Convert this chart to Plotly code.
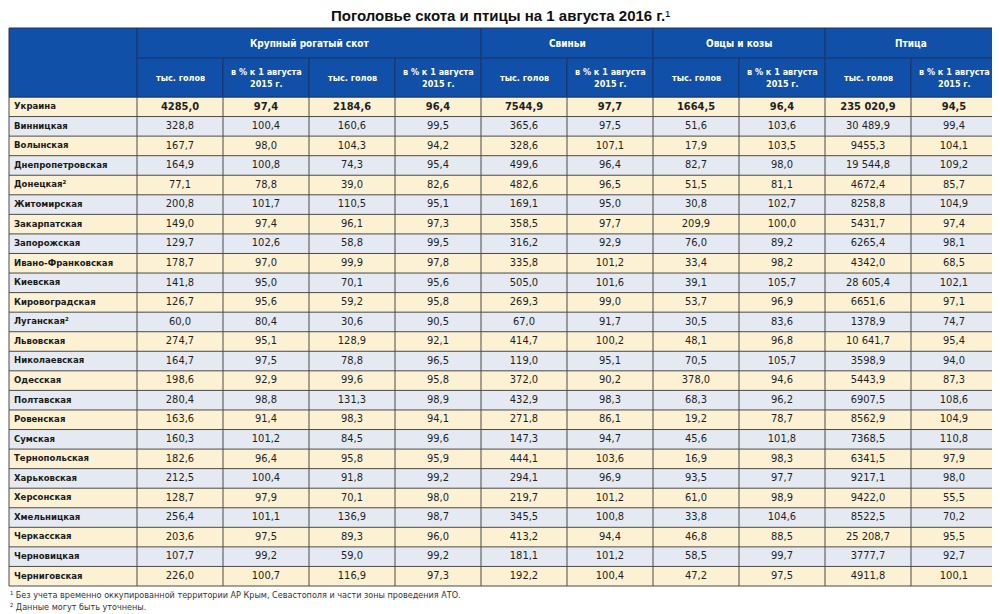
import numpy as np
import plotly.graph_objects as go

# данные таблицы
regions = ["Украина", "Винницкая", "Волынская", "Днепропетровская", "Донецкая²",
           "Житомирская", "Закарпатская", "Запорожская", "Ивано-Франковская", "Киевская",
           "Кировоградская", "Луганская²", "Львовская", "Николаевская", "Одесская",
           "Полтавская", "Ровенская", "Сумская", "Тернопольская", "Харьковская", "Херсонская",
           "Хмельницкая", "Черкасская", "Черновицкая", "Черниговская"]

cattle = [4285.0, 328.8, 167.7, 164.9, 77.1, 200.8, 149.0, 129.7, 178.7, 141.8, 126.7, 60.0, 274.7,
          164.7, 198.6, 280.4, 163.6, 160.3, 182.6, 212.5, 128.7, 256.4, 203.6, 107.7, 226.0]
cattle_pct = [97.4, 100.4, 98.0, 100.8, 78.8, 101.7, 97.4, 102.6, 97.0, 95.0, 95.6, 80.4, 95.1,
              97.5, 92.9, 98.8, 91.4, 101.2, 96.4, 100.4, 97.9, 101.1, 97.5, 99.2, 100.7]
cows = [2184.6, 160.6, 104.3, 74.3, 39.0, 110.5, 96.1, 58.8, 99.9, 70.1, 59.2, 30.6, 128.9,
        78.8, 99.6, 131.3, 98.3, 84.5, 95.8, 91.8, 70.1, 136.9, 89.3, 59.0, 116.9]
cows_pct = [96.4, 99.5, 94.2, 95.4, 82.6, 95.1, 97.3, 99.5, 97.8, 95.6, 95.8, 90.5, 92.1,
            96.5, 95.8, 98.9, 94.1, 99.6, 95.9, 99.2, 98.0, 98.7, 96.0, 99.2, 97.3]
pigs = [7544.9, 365.6, 328.6, 499.6, 482.6, 169.1, 358.5, 316.2, 335.8, 505.0, 269.3, 67.0, 414.7,
        119.0, 372.0, 432.9, 271.8, 147.3, 444.1, 294.1, 219.7, 345.5, 413.2, 181.1, 192.2]
pigs_pct = [97.7, 97.5, 107.1, 96.4, 96.5, 95.0, 97.7, 92.9, 101.2, 101.6, 99.0, 91.7, 100.2,
            95.1, 90.2, 98.3, 86.1, 94.7, 103.6, 96.9, 101.2, 100.8, 94.4, 101.2, 100.4]
sheep = [1664.5, 51.6, 17.9, 82.7, 51.5, 30.8, 209.9, 76.0, 33.4, 39.1, 53.7, 30.5, 48.1,
         70.5, 378.0, 68.3, 19.2, 45.6, 16.9, 93.5, 61.0, 33.8, 46.8, 58.5, 47.2]
sheep_pct = [96.4, 103.6, 103.5, 98.0, 81.1, 102.7, 100.0, 89.2, 98.2, 105.7, 96.9, 83.6, 96.8,
             105.7, 94.6, 96.2, 78.7, 101.8, 98.3, 97.7, 98.9, 104.6, 88.5, 99.7, 97.5]
poultry = [235020.9, 30489.9, 9455.3, 19544.8, 4672.4, 8258.8, 5431.7, 6265.4, 4342.0, 28605.4,
           6651.6, 1378.9, 10641.7, 3598.9, 5443.9, 6907.5, 8562.9, 7368.5, 6341.5, 9217.1,
           9422.0, 8522.5, 25208.7, 3777.7, 4911.8]
poultry_pct = [94.5, 99.4, 104.1, 109.2, 85.7, 104.9, 97.4, 98.1, 68.5, 102.1, 97.1, 74.7, 95.4,
               94.0, 87.3, 108.6, 104.9, 110.8, 97.9, 98.0, 55.5, 70.2, 95.5, 92.7, 100.1]

groups = ["Крупный рогатый скот", "Свиньи", "Овцы и козы", "Птица"]
group_span = [4, 2, 2, 2]
sub_labels = ["тыс. голов", "в % к 1 августа<br>2015 г."]

title = "Поголовье скота и птицы на 1 августа 2016 г."
notes = ["¹ Без учета временно оккупированной территории АР Крым, Севастополя и части зоны проведения АТО.",
         "² Данные могут быть уточнены."]


def fmt(v):
    # число в формате "12 345,6"
    s = f"{v:,.1f}" if v >= 10000 else f"{v:.1f}"
    return s.replace(",", " ").replace(".", ",")


# страница html имеет отступ 8px, поэтому фигура чуть меньше окна,
# а оси заданы в координатах окна
PAGE_W, PAGE_H, OFF = 1000, 614, 8
W, H = PAGE_W - OFF, PAGE_H - OFF
LEFT, TOP = 9, 28
COL_W = [128] + [86] * 10
H_GROUP, H_SUB, ROW_H = 30, 39, 19.56

BLUE = "#1150a8"
NAVY = "#1c3768"
YELLOW = "#fdf1d4"
GREY = "#e5eaf2"
LINE = "#4a4a4a"
COND = "DejaVu Sans Condensed, DejaVu Sans, sans-serif"

num_cols = [cattle, cattle_pct, cows, cows_pct, pigs, pigs_pct, sheep, sheep_pct, poultry, poultry_pct]
n_rows = len(regions)

x_edges = np.cumsum([LEFT] + COL_W)
x_mid = (x_edges[:-1] + x_edges[1:]) / 2
body_top = TOP + H_GROUP + H_SUB
y_edges = body_top + ROW_H * np.arange(n_rows + 1)
y_mid = (y_edges[:-1] + y_edges[1:]) / 2
table_bottom = y_edges[-1]

fig = go.Figure()

# заливка строк (чередование)
z = [[i % 2] * len(COL_W) for i in range(n_rows)]
fig.add_trace(go.Heatmap(x=x_edges, y=y_edges, z=z, zmin=0, zmax=1,
                         colorscale=[[0, YELLOW], [1, GREY]], showscale=False,
                         hoverinfo="skip"))

# названия областей
fig.add_trace(go.Scatter(x=[x_edges[0] + 5] * n_rows, y=y_mid, mode="text",
                         text=[f"<b>{r}</b>" for r in regions], textposition="middle right",
                         textfont=dict(family=COND, size=9.5, color="#1a1a1a"),
                         hoverinfo="skip", showlegend=False))

# числа
xs, ys, txt = [], [], []
for j, col in enumerate(num_cols):
    for i, v in enumerate(col):
        xs.append(x_mid[j + 1])
        ys.append(y_mid[i])
        t = fmt(v)
        txt.append(f"<b>{t}</b>" if i == 0 else t)
fig.add_trace(go.Scatter(x=xs, y=ys, mode="text", text=txt, textposition="middle center",
                         textfont=dict(family=COND, size=11, color="#1f1f1f"),
                         hoverinfo="skip", showlegend=False))

shapes = []
# линии сетки в теле таблицы
for y in y_edges:
    shapes.append(dict(type="line", x0=x_edges[0], x1=x_edges[-1], y0=y, y1=y,
                       line=dict(color=LINE, width=1)))
for x in x_edges:
    shapes.append(dict(type="line", x0=x, x1=x, y0=body_top, y1=table_bottom,
                       line=dict(color=LINE, width=1)))

# шапка
shapes.append(dict(type="rect", x0=x_edges[0], x1=x_edges[1], y0=TOP, y1=body_top,
                   fillcolor=BLUE, line=dict(color=NAVY, width=1)))
g_edges = [1]
for s in group_span:
    g_edges.append(g_edges[-1] + s)
annotations = []
for k, g in enumerate(groups):
    x0, x1 = x_edges[g_edges[k]], x_edges[g_edges[k + 1]]
    shapes.append(dict(type="rect", x0=x0, x1=x1, y0=TOP, y1=TOP + H_GROUP,
                       fillcolor=BLUE, line=dict(color=NAVY, width=1)))
    annotations.append(dict(text=f"<b>{g}</b>", x=(x0 + x1) / 2, y=TOP + H_GROUP / 2,
                            font=dict(family=COND, size=10, color="white")))
for j in range(1, len(COL_W)):
    shapes.append(dict(type="rect", x0=x_edges[j], x1=x_edges[j + 1], y0=TOP + H_GROUP, y1=body_top,
                       fillcolor=BLUE, line=dict(color=NAVY, width=1)))
    annotations.append(dict(text=f"<b>{sub_labels[(j - 1) % 2]}</b>", x=x_mid[j],
                            y=TOP + H_GROUP + H_SUB / 2, align="center",
                            font=dict(family=COND, size=9, color="white")))

for a in annotations:
    a.update(xref="x", yref="y", showarrow=False, xanchor="center", yanchor="middle")

# сноски
for i, n in enumerate(notes):
    annotations.append(dict(text=n, x=LEFT - 1, y=table_bottom + 9 + 12 * i, xref="x", yref="y",
                            xanchor="left", yanchor="middle", showarrow=False,
                            font=dict(family=COND, size=9, color="#333333")))

# заголовок
annotations.append(dict(text=f"<b>{title}</b>¹", x=PAGE_W / 2, y=15, xref="x", yref="y",
                        xanchor="center", yanchor="middle", showarrow=False,
                        font=dict(family="Liberation Sans, Arial, sans-serif", size=15, color="#111111")))

fig.update_layout(
    width=W, height=H,
    margin=dict(l=0, r=0, t=0, b=0),
    paper_bgcolor="white", plot_bgcolor="white",
    xaxis=dict(range=[OFF, PAGE_W], visible=False, fixedrange=True),
    yaxis=dict(range=[PAGE_H, OFF], visible=False, fixedrange=True),
    shapes=shapes, annotations=annotations,
    showlegend=False,
)

fig.write_html("out.html")
